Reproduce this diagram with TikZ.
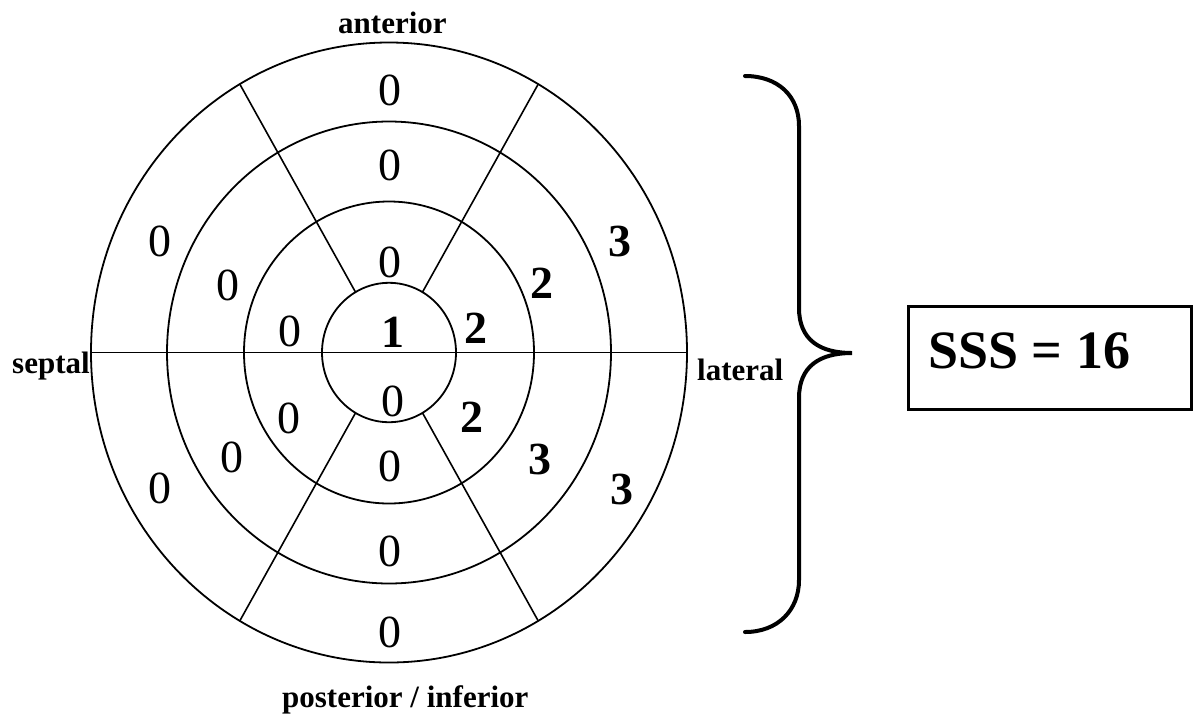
\documentclass[tikz,border=0pt]{standalone}
\usepackage{fontspec}
\setmainfont{Liberation Serif}
\begin{document}
\begin{tikzpicture}[x=1pt,y=-1pt,
  ring/.style={line width=1.8pt},
  spoke/.style={line width=1.6pt},
  num/.style={inner sep=0pt,anchor=base,font=\fontsize{46}{46}\selectfont},
  bnum/.style={num,font=\fontsize{46}{46}\selectfont\bfseries},
  side/.style={inner sep=0pt,font=\fontsize{31}{31}\selectfont\bfseries},
  bracestyle/.style={line width=4pt,line cap=round},
  scorebox/.style={draw,line width=2.5pt,minimum width=283pt,minimum height=103pt,inner sep=0pt,anchor=north west}
]
\useasboundingbox (0,0) rectangle (1193,713);
\coordinate (c) at (389,352.5);
% rings
\draw[ring] (c) ellipse [x radius=298pt, y radius=310pt];
\draw[ring] (c) ellipse [x radius=222pt, y radius=231pt];
\draw[ring] (c) ellipse [x radius=145pt, y radius=151pt];
\draw[ring] (c) ellipse [x radius=67pt, y radius=69.7pt];
% spokes
\coordinate (w) at (91,352.5);
\coordinate (e) at (687,352.5);
\draw[spoke] (w) -- (e);
\coordinate (i60) at (422.5,292.1);  \coordinate (o60) at (538,84.5);
\coordinate (i120) at (355.5,292.1); \coordinate (o120) at (240,84.5);
\coordinate (i240) at (355.5,412.9); \coordinate (o240) at (240,620.5);
\coordinate (i300) at (422.5,412.9); \coordinate (o300) at (538,620.5);
\draw[spoke] (i60) -- (o60);
\draw[spoke] (i120) -- (o120);
\draw[spoke] (i240) -- (o240);
\draw[spoke] (i300) -- (o300);
% numbers: top column
\node[num] (t1) at (390,105) {0};
\node[num] (t2) at (390,180) {0};
\node[num] (t3) at (390,277) {0};
\node[bnum] (apex) at (392.5,347) {1};
\node[num] (b0) at (393,416) {0};
\node[num] (b3) at (390,481) {0};
\node[num] (b2) at (390,566) {0};
\node[num] (b1) at (390,647) {0};
% left side
\node[num] (ul1) at (160,256) {0};
\node[num] (ul2) at (228,300) {0};
\node[num] (ul3) at (290,346) {0};
\node[num] (ll3) at (289,433) {0};
\node[num] (ll2) at (232,472) {0};
\node[num] (ll1) at (160,503) {0};
% right side
\node[bnum] (ur1) at (620,256) {3};
\node[bnum] (ur2) at (542,298) {2};
\node[bnum] (ur3) at (475.5,343) {2};
\node[bnum] (lr3) at (472,432) {2};
\node[bnum] (lr2) at (540,474) {3};
\node[bnum] (lr1) at (622,504) {3};
% side labels
\node[side,anchor=base west] (ant) at (338,33) {anterior};
\node[side,anchor=base west] (sep) at (12,373) {septal};
\node[side,anchor=base west] (lat) at (697,380) {lateral};
\node[side,anchor=base west] (post) at (282,707) {posterior / inferior};
% brace
\coordinate (btop) at (745,76);
\coordinate (bbot) at (745,632);
\coordinate (tip) at (852,353);
\draw[bracestyle] (btop) .. controls (778,76) and (799,96) .. (799,126)
  -- (799,308) .. controls (799,340) and (820,353) .. (tip)
  .. controls (820,353) and (799,366) .. (799,398)
  -- (799,580) .. controls (799,610) and (778,632) .. (bbot);
% score box
\node[scorebox] (box) at (907,305) {};
\node[inner sep=0pt,anchor=base west,font=\fontsize{54}{54}\selectfont\bfseries] (sss) at (928,368) {SSS = 16};
\end{tikzpicture}
\end{document}
